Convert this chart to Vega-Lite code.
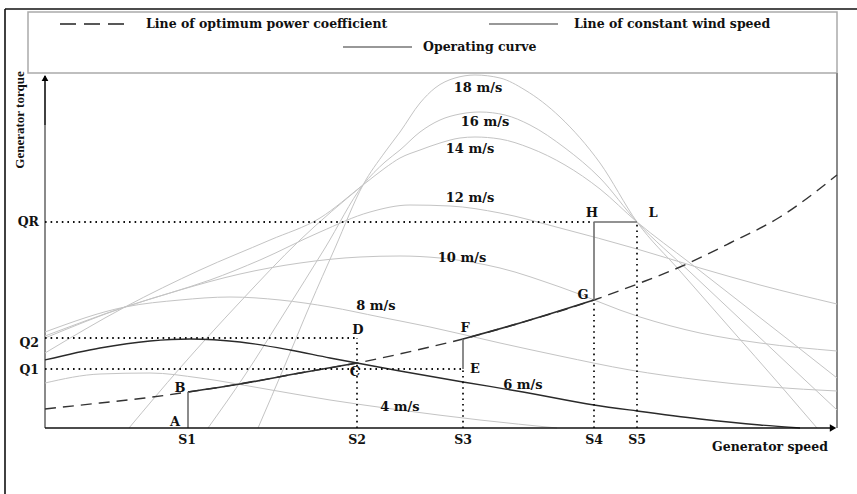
{
  "$schema": "https://vega.github.io/schema/vega-lite/v6.json",
  "width": 792,
  "height": 355,
  "autosize": {"type": "none"},
  "padding": {"left": 45, "top": 73, "right": 20, "bottom": 66},
  "background": "white",
  "config": {"view": {"stroke": null}},
  "datasets": {
    "curves": [
      {"s": "4 m/s", "x": 0, "y": 45}, {"s": "4 m/s", "x": 55, "y": 54}, {"s": "4 m/s", "x": 105, "y": 55}, {"s": "4 m/s", "x": 155, "y": 50}, {"s": "4 m/s", "x": 215, "y": 40}, {"s": "4 m/s", "x": 285, "y": 28}, {"s": "4 m/s", "x": 355, "y": 18}, {"s": "4 m/s", "x": 435, "y": 8}, {"s": "4 m/s", "x": 512, "y": 0},
      {"s": "8 m/s", "x": 0, "y": 96}, {"s": "8 m/s", "x": 80, "y": 121}, {"s": "8 m/s", "x": 135, "y": 128}, {"s": "8 m/s", "x": 185, "y": 131}, {"s": "8 m/s", "x": 235, "y": 128}, {"s": "8 m/s", "x": 285, "y": 121}, {"s": "8 m/s", "x": 335, "y": 111}, {"s": "8 m/s", "x": 385, "y": 101}, {"s": "8 m/s", "x": 455, "y": 85}, {"s": "8 m/s", "x": 515, "y": 72}, {"s": "8 m/s", "x": 585, "y": 58}, {"s": "8 m/s", "x": 655, "y": 48}, {"s": "8 m/s", "x": 725, "y": 41}, {"s": "8 m/s", "x": 792, "y": 37},
      {"s": "10 m/s", "x": 0, "y": 92}, {"s": "10 m/s", "x": 80, "y": 121}, {"s": "10 m/s", "x": 135, "y": 138}, {"s": "10 m/s", "x": 195, "y": 154}, {"s": "10 m/s", "x": 255, "y": 165}, {"s": "10 m/s", "x": 315, "y": 171}, {"s": "10 m/s", "x": 355, "y": 172}, {"s": "10 m/s", "x": 395, "y": 170}, {"s": "10 m/s", "x": 455, "y": 160}, {"s": "10 m/s", "x": 515, "y": 141}, {"s": "10 m/s", "x": 595, "y": 111}, {"s": "10 m/s", "x": 655, "y": 95}, {"s": "10 m/s", "x": 715, "y": 85}, {"s": "10 m/s", "x": 792, "y": 77},
      {"s": "12 m/s", "x": 0, "y": 90}, {"s": "12 m/s", "x": 80, "y": 121}, {"s": "12 m/s", "x": 125, "y": 135}, {"s": "12 m/s", "x": 165, "y": 148}, {"s": "12 m/s", "x": 215, "y": 168}, {"s": "12 m/s", "x": 275, "y": 196}, {"s": "12 m/s", "x": 325, "y": 216}, {"s": "12 m/s", "x": 365, "y": 223}, {"s": "12 m/s", "x": 405, "y": 222}, {"s": "12 m/s", "x": 455, "y": 215}, {"s": "12 m/s", "x": 515, "y": 200}, {"s": "12 m/s", "x": 592, "y": 179}, {"s": "12 m/s", "x": 655, "y": 160}, {"s": "12 m/s", "x": 715, "y": 143}, {"s": "12 m/s", "x": 792, "y": 124},
      {"s": "14 m/s", "x": 0, "y": 75}, {"s": "14 m/s", "x": 80, "y": 121}, {"s": "14 m/s", "x": 155, "y": 158}, {"s": "14 m/s", "x": 225, "y": 188}, {"s": "14 m/s", "x": 275, "y": 210}, {"s": "14 m/s", "x": 318, "y": 243}, {"s": "14 m/s", "x": 340, "y": 260}, {"s": "14 m/s", "x": 355, "y": 270}, {"s": "14 m/s", "x": 375, "y": 278}, {"s": "14 m/s", "x": 395, "y": 285}, {"s": "14 m/s", "x": 415, "y": 290}, {"s": "14 m/s", "x": 430, "y": 291}, {"s": "14 m/s", "x": 455, "y": 289}, {"s": "14 m/s", "x": 485, "y": 280}, {"s": "14 m/s", "x": 520, "y": 263}, {"s": "14 m/s", "x": 555, "y": 239}, {"s": "14 m/s", "x": 592, "y": 206}, {"s": "14 m/s", "x": 645, "y": 165}, {"s": "14 m/s", "x": 695, "y": 126}, {"s": "14 m/s", "x": 745, "y": 87}, {"s": "14 m/s", "x": 792, "y": 50},
      {"s": "16 m/s", "x": 163, "y": 0}, {"s": "16 m/s", "x": 200, "y": 53}, {"s": "16 m/s", "x": 240, "y": 116}, {"s": "16 m/s", "x": 280, "y": 180}, {"s": "16 m/s", "x": 318, "y": 243}, {"s": "16 m/s", "x": 340, "y": 266}, {"s": "16 m/s", "x": 355, "y": 278}, {"s": "16 m/s", "x": 375, "y": 296}, {"s": "16 m/s", "x": 395, "y": 308}, {"s": "16 m/s", "x": 415, "y": 314}, {"s": "16 m/s", "x": 435, "y": 316}, {"s": "16 m/s", "x": 460, "y": 313}, {"s": "16 m/s", "x": 485, "y": 303}, {"s": "16 m/s", "x": 520, "y": 280}, {"s": "16 m/s", "x": 555, "y": 250}, {"s": "16 m/s", "x": 592, "y": 206}, {"s": "16 m/s", "x": 645, "y": 156}, {"s": "16 m/s", "x": 695, "y": 109}, {"s": "16 m/s", "x": 745, "y": 62}, {"s": "16 m/s", "x": 792, "y": 18},
      {"s": "18 m/s", "x": 213, "y": 0}, {"s": "18 m/s", "x": 240, "y": 63}, {"s": "18 m/s", "x": 265, "y": 123}, {"s": "18 m/s", "x": 290, "y": 180}, {"s": "18 m/s", "x": 318, "y": 243}, {"s": "18 m/s", "x": 340, "y": 276}, {"s": "18 m/s", "x": 355, "y": 296}, {"s": "18 m/s", "x": 375, "y": 325}, {"s": "18 m/s", "x": 390, "y": 340}, {"s": "18 m/s", "x": 410, "y": 350}, {"s": "18 m/s", "x": 430, "y": 353}, {"s": "18 m/s", "x": 455, "y": 350}, {"s": "18 m/s", "x": 480, "y": 338}, {"s": "18 m/s", "x": 515, "y": 311}, {"s": "18 m/s", "x": 555, "y": 265}, {"s": "18 m/s", "x": 592, "y": 206}, {"s": "18 m/s", "x": 635, "y": 157}, {"s": "18 m/s", "x": 685, "y": 100}, {"s": "18 m/s", "x": 735, "y": 43}, {"s": "18 m/s", "x": 772, "y": 0},
      {"s": "extra", "x": 84, "y": 0}, {"s": "extra", "x": 135, "y": 60}, {"s": "extra", "x": 195, "y": 126}, {"s": "extra", "x": 255, "y": 188}, {"s": "extra", "x": 318, "y": 243}
    ],
    "six": [
      {"x": 0, "y": 68}, {"x": 55, "y": 80}, {"x": 105, "y": 87}, {"x": 145, "y": 89}, {"x": 195, "y": 86}, {"x": 245, "y": 78}, {"x": 285, "y": 70}, {"x": 312, "y": 65}, {"x": 355, "y": 57}, {"x": 418, "y": 46}, {"x": 478, "y": 36}, {"x": 549, "y": 23}, {"x": 592, "y": 17}, {"x": 655, "y": 9}, {"x": 715, "y": 3}, {"x": 755, "y": 0}
    ],
    "opt": [
      {"x": 0, "y": 19}, {"x": 55, "y": 25}, {"x": 100, "y": 30}, {"x": 143, "y": 36}, {"x": 195, "y": 44}, {"x": 255, "y": 55}, {"x": 312, "y": 65}, {"x": 385, "y": 81}, {"x": 418, "y": 89}, {"x": 475, "y": 105}, {"x": 549, "y": 128}, {"x": 595, "y": 145}, {"x": 635, "y": 161}, {"x": 685, "y": 185}, {"x": 735, "y": 211}, {"x": 792, "y": 253}
    ],
    "opsolid": [
      {"s": "BC", "x": 143, "y": 36}, {"s": "BC", "x": 195, "y": 44}, {"s": "BC", "x": 255, "y": 55}, {"s": "BC", "x": 312, "y": 65},
      {"s": "FG", "x": 418, "y": 89}, {"s": "FG", "x": 475, "y": 105}, {"s": "FG", "x": 549, "y": 128}
    ],
    "opvert": [
      {"x": 143, "y": 0, "x2": 143, "y2": 36},
      {"x": 418, "y": 59, "x2": 418, "y2": 89},
      {"x": 549, "y": 128, "x2": 549, "y2": 206},
      {"x": 549, "y": 206, "x2": 592, "y2": 206}
    ],
    "dotted": [
      {"x": 0, "y": 206, "x2": 549, "y2": 206},
      {"x": 0, "y": 90, "x2": 312, "y2": 90},
      {"x": 0, "y": 59, "x2": 418, "y2": 59},
      {"x": 312, "y": 0, "x2": 312, "y2": 90},
      {"x": 418, "y": 0, "x2": 418, "y2": 59},
      {"x": 549, "y": 0, "x2": 549, "y2": 128},
      {"x": 592, "y": 0, "x2": 592, "y2": 206}
    ],
    "frameBlack": [
      {"x": -40, "y": 419, "x2": -40, "y2": -66},
      {"x": -40, "y": 419, "x2": 812, "y2": 419},
      {"x": 0, "y": 0, "x2": 788, "y2": 0},
      {"x": 0, "y": 303, "x2": 0, "y2": 352}
    ],
    "frameGray": [
      {"x": 0, "y": 0, "x2": 0, "y2": 303},
      {"x": 792, "y": 0, "x2": 792, "y2": 355}
    ],
    "legendbox": [{"x": -17, "y": 355, "x2": 792, "y2": 416}],
    "legendDash": [{"x": 15, "y": 404, "x2": 79, "y2": 404}],
    "legendSolid": [{"x": 444, "y": 404, "x2": 513, "y2": 404}, {"x": 298, "y": 381, "x2": 367, "y2": 381}],
    "legendText": [
      {"t": "Line of optimum power coefficient", "x": 101, "y": 404},
      {"t": "Line of constant wind speed", "x": 529, "y": 404},
      {"t": "Operating curve", "x": 378, "y": 381}
    ],
    "letters": [
      {"t": "A", "x": 130, "y": 6}, {"t": "B", "x": 135, "y": 40}, {"t": "C", "x": 310, "y": 56}, {"t": "D", "x": 313, "y": 98},
      {"t": "E", "x": 430, "y": 59}, {"t": "F", "x": 420, "y": 100}, {"t": "G", "x": 538, "y": 133}, {"t": "H", "x": 547, "y": 215}, {"t": "L", "x": 608, "y": 215}
    ],
    "speeds": [
      {"t": "18 m/s", "x": 433, "y": 340}, {"t": "16 m/s", "x": 440, "y": 306}, {"t": "14 m/s", "x": 425, "y": 279}, {"t": "12 m/s", "x": 425, "y": 230},
      {"t": "10 m/s", "x": 417, "y": 170}, {"t": "8 m/s", "x": 331, "y": 122}, {"t": "6 m/s", "x": 478, "y": 43}, {"t": "4 m/s", "x": 355, "y": 21}
    ],
    "sTicks": [
      {"t": "S1", "x": 142, "y": -12}, {"t": "S2", "x": 312, "y": -12}, {"t": "S3", "x": 418, "y": -12}, {"t": "S4", "x": 549, "y": -12}, {"t": "S5", "x": 592, "y": -12},
      {"t": "Generator speed", "x": 725, "y": -19}
    ],
    "qTicks": [
      {"t": "QR", "x": -6, "y": 206}, {"t": "Q2", "x": -6, "y": 85}, {"t": "Q1", "x": -6, "y": 58}
    ],
    "torqueTitle": [{"t": "Generator torque", "x": -25, "y": 308}],
    "arrowUp": [{"x": 0, "y": 350}],
    "arrowRight": [{"x": 788, "y": 0}]
  },
  "layer": [
    {
      "data": {"name": "legendbox"},
      "mark": {"type": "rect", "fill": null, "fillOpacity": 0, "stroke": "#ababab", "strokeWidth": 1.5},
      "encoding": {
        "x": {"field": "x", "type": "quantitative", "scale": {"domain": [0, 792], "nice": false, "zero": false}, "axis": null},
        "x2": {"field": "x2"},
        "y": {"field": "y", "type": "quantitative", "scale": {"domain": [0, 355], "nice": false, "zero": false}, "axis": null},
        "y2": {"field": "y2"}
      }
    },
    {
      "data": {"name": "frameGray"},
      "mark": {"type": "rule", "color": "#8a8a8a", "strokeWidth": 2},
      "encoding": {"x": {"field": "x", "type": "quantitative"}, "x2": {"field": "x2"}, "y": {"field": "y", "type": "quantitative"}, "y2": {"field": "y2"}}
    },
    {
      "data": {"name": "curves"},
      "mark": {"type": "line", "color": "#c4c4c4", "strokeWidth": 1, "interpolate": "monotone"},
      "encoding": {"x": {"field": "x", "type": "quantitative"}, "y": {"field": "y", "type": "quantitative"}, "detail": {"field": "s"}}
    },
    {
      "data": {"name": "six"},
      "mark": {"type": "line", "color": "#2a2a2a", "strokeWidth": 1.3, "interpolate": "monotone"},
      "encoding": {"x": {"field": "x", "type": "quantitative"}, "y": {"field": "y", "type": "quantitative"}}
    },
    {
      "data": {"name": "opt"},
      "mark": {"type": "line", "color": "#333333", "strokeWidth": 1.4, "strokeDash": [11, 7], "interpolate": "monotone"},
      "encoding": {"x": {"field": "x", "type": "quantitative"}, "y": {"field": "y", "type": "quantitative"}}
    },
    {
      "data": {"name": "opsolid"},
      "mark": {"type": "line", "color": "#2e2e2e", "strokeWidth": 1.7, "interpolate": "monotone"},
      "encoding": {"x": {"field": "x", "type": "quantitative"}, "y": {"field": "y", "type": "quantitative"}, "detail": {"field": "s"}}
    },
    {
      "data": {"name": "dotted"},
      "mark": {"type": "rule", "color": "#111111", "strokeWidth": 1.8, "strokeDash": [1.6, 4]},
      "encoding": {"x": {"field": "x", "type": "quantitative"}, "x2": {"field": "x2"}, "y": {"field": "y", "type": "quantitative"}, "y2": {"field": "y2"}}
    },
    {
      "data": {"name": "opvert"},
      "mark": {"type": "rule", "color": "#6e6e6e", "strokeWidth": 1.6},
      "encoding": {"x": {"field": "x", "type": "quantitative"}, "x2": {"field": "x2"}, "y": {"field": "y", "type": "quantitative"}, "y2": {"field": "y2"}}
    },
    {
      "data": {"name": "frameBlack"},
      "mark": {"type": "rule", "color": "#111111", "strokeWidth": 1.6},
      "encoding": {"x": {"field": "x", "type": "quantitative"}, "x2": {"field": "x2"}, "y": {"field": "y", "type": "quantitative"}, "y2": {"field": "y2"}}
    },
    {
      "data": {"name": "arrowUp"},
      "mark": {"type": "point", "shape": "triangle-up", "filled": true, "color": "#000000", "size": 45, "opacity": 1},
      "encoding": {"x": {"field": "x", "type": "quantitative"}, "y": {"field": "y", "type": "quantitative"}}
    },
    {
      "data": {"name": "arrowRight"},
      "mark": {"type": "point", "shape": "triangle-right", "filled": true, "color": "#000000", "size": 55, "opacity": 1},
      "encoding": {"x": {"field": "x", "type": "quantitative"}, "y": {"field": "y", "type": "quantitative"}}
    },
    {
      "data": {"name": "legendDash"},
      "mark": {"type": "rule", "color": "#222222", "strokeWidth": 1.3, "strokeDash": [16, 8]},
      "encoding": {"x": {"field": "x", "type": "quantitative"}, "x2": {"field": "x2"}, "y": {"field": "y", "type": "quantitative"}, "y2": {"field": "y2"}}
    },
    {
      "data": {"name": "legendSolid"},
      "mark": {"type": "rule", "color": "#333333", "strokeWidth": 1.2},
      "encoding": {"x": {"field": "x", "type": "quantitative"}, "x2": {"field": "x2"}, "y": {"field": "y", "type": "quantitative"}, "y2": {"field": "y2"}}
    },
    {
      "data": {"name": "legendText"},
      "mark": {"type": "text", "font": "DejaVu Serif", "fontWeight": "bold", "fontSize": 12.5, "align": "left", "baseline": "middle", "color": "#111111"},
      "encoding": {"x": {"field": "x", "type": "quantitative"}, "y": {"field": "y", "type": "quantitative"}, "text": {"field": "t"}}
    },
    {
      "data": {"name": "letters"},
      "mark": {"type": "text", "font": "DejaVu Serif", "fontWeight": "bold", "fontSize": 13, "align": "center", "baseline": "middle", "color": "#111111"},
      "encoding": {"x": {"field": "x", "type": "quantitative"}, "y": {"field": "y", "type": "quantitative"}, "text": {"field": "t"}}
    },
    {
      "data": {"name": "speeds"},
      "mark": {"type": "text", "font": "DejaVu Serif", "fontWeight": "bold", "fontSize": 13, "align": "center", "baseline": "middle", "color": "#111111"},
      "encoding": {"x": {"field": "x", "type": "quantitative"}, "y": {"field": "y", "type": "quantitative"}, "text": {"field": "t"}}
    },
    {
      "data": {"name": "sTicks"},
      "mark": {"type": "text", "font": "DejaVu Serif", "fontWeight": "bold", "fontSize": 12.5, "align": "center", "baseline": "middle", "color": "#111111"},
      "encoding": {"x": {"field": "x", "type": "quantitative"}, "y": {"field": "y", "type": "quantitative"}, "text": {"field": "t"}}
    },
    {
      "data": {"name": "qTicks"},
      "mark": {"type": "text", "font": "DejaVu Serif", "fontWeight": "bold", "fontSize": 12.5, "align": "right", "baseline": "middle", "color": "#111111"},
      "encoding": {"x": {"field": "x", "type": "quantitative"}, "y": {"field": "y", "type": "quantitative"}, "text": {"field": "t"}}
    },
    {
      "data": {"name": "torqueTitle"},
      "mark": {"type": "text", "font": "Liberation Serif", "fontWeight": "bold", "fontSize": 13, "angle": 270, "align": "center", "baseline": "middle", "color": "#111111"},
      "encoding": {"x": {"field": "x", "type": "quantitative"}, "y": {"field": "y", "type": "quantitative"}, "text": {"field": "t"}}
    }
  ]
}
